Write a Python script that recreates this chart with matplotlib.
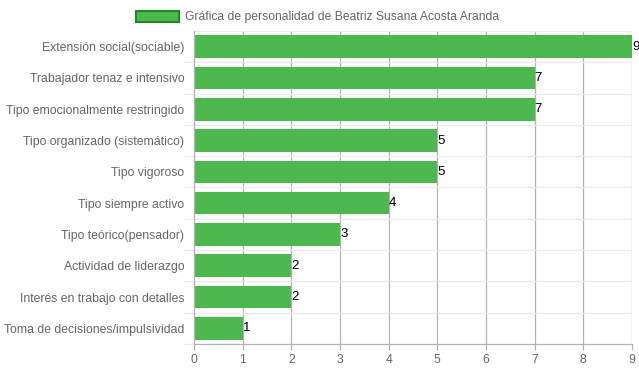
import matplotlib.pyplot as plt
from matplotlib.patches import Patch

categorias = ["Extensión social(sociable)", "Trabajador tenaz e intensivo",
              "Tipo emocionalmente restringido", "Tipo organizado (sistemático)",
              "Tipo vigoroso", "Tipo siempre activo", "Tipo teórico(pensador)",
              "Actividad de liderazgo", "Interés en trabajo con detalles",
              "Toma de decisiones/impulsividad"]
valores = [9, 7, 7, 5, 5, 4, 3, 2, 2, 1]
titulo = "Gráfica de personalidad de Beatriz Susana Acosta Aranda"

plt.rcParams['font.family'] = ['Liberation Sans', 'DejaVu Sans']

fig = plt.figure(figsize=(6.39, 3.72), dpi=100)
ax = fig.add_axes([194/639, 1 - 344/372, 438/639, 313/372])

n = len(categorias)
pos = list(range(n))
ax.barh(pos, valores, height=0.72, color='#4db84d', zorder=2)
for p, v in zip(pos, valores):
    ax.text(v, p, str(v), ha='left', va='center', fontsize=9.5, color='black', zorder=3)

ax.set_xlim(0, 9)
ax.set_ylim(n - 0.5, -0.5)
ax.set_xticks(range(10))
ax.set_yticks(pos)
ax.set_yticklabels(categorias)
ax.set_yticks([k - 0.5 for k in range(1, n + 1)], minor=True)

# vertical grid at ticks
for x in range(1, 10):
    ax.axvline(x, color='#b3b3b3', lw=0.9, zorder=1)
# horizontal grid at category boundaries
for k in range(n):
    ax.axhline(k - 0.5, color='#ebebeb', lw=0.9, zorder=1)

for s in ['top', 'right']:
    ax.spines[s].set_visible(False)
for s in ['left', 'bottom']:
    ax.spines[s].set_color('#b3b3b3')
    ax.spines[s].set_linewidth(0.9)

ax.tick_params(axis='x', colors='#666666', labelsize=8.8, length=4, width=0.9, color='#b3b3b3', pad=3)
ax.tick_params(axis='y', which='major', colors='#666666', labelsize=8.8, length=0, pad=7)
ax.tick_params(axis='y', which='minor', length=8, width=0.9, color='#ebebeb')
for lab in ax.get_yticklabels() + ax.get_xticklabels():
    lab.set_color('#666666')

handle = Patch(facecolor='#4db84d', edgecolor='#1f8a1f', linewidth=1.5)
fig.legend([handle], [titulo], loc='upper center', bbox_to_anchor=(0.497, 1.0),
           frameon=False, fontsize=8.7, handlelength=3.6, handleheight=1.0,
           handletextpad=0.5, labelcolor='#666666')

fig.savefig('out.png', dpi=100)
